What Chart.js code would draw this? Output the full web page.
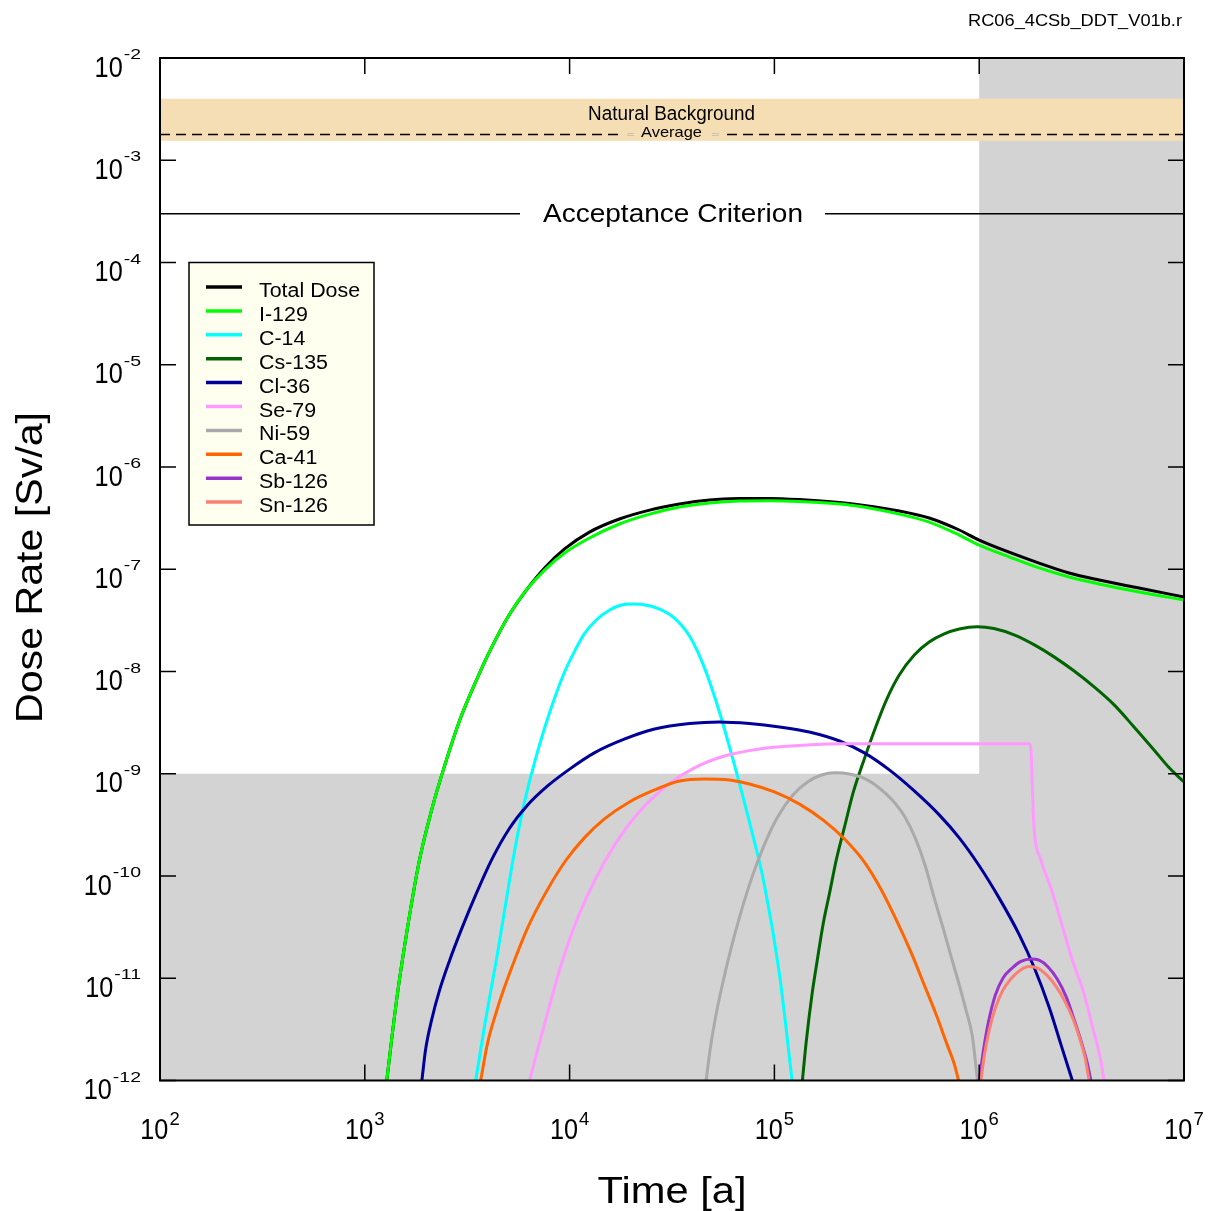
<!DOCTYPE html>
<html>
<head>
<meta charset="utf-8">
<title>Dose Rate vs Time</title>
<script src="https://cdn.jsdelivr.net/npm/chart.js@4.4.1/dist/chart.umd.min.js"></script>
<style>
  html, body { margin: 0; padding: 0; background: #ffffff; }
  canvas { display: block; }
</style>
</head>
<body>
<canvas id="chart" width="1209" height="1211"></canvas>
<script>
// ---- Dose rate [Sv/a] versus time [a] for each nuclide ----
const totalTime = [1.28e3, 1.43e3, 1.62e3, 1.85e3, 2.12e3, 2.46e3, 2.91e3, 3.51e3, 4.15e3, 5.10e3, 6.15e3, 7.55e3, 9.45e3, 1.25e4, 1.75e4, 2.46e4, 3.44e4, 4.82e4, 6.75e4, 9.45e4, 1.32e5, 2.32e5, 4.07e5, 5.70e5, 7.99e5, 1.00e6, 1.40e6, 1.96e6, 2.75e6, 3.85e6, 6.03e6, 1.00e7];
const totalDose = [1e-12, 6.15e-12, 3.20e-11, 1.44e-10, 4.43e-10, 1.22e-9, 3.36e-9, 8.26e-9, 1.70e-8, 3.65e-8, 6.26e-8, 1.03e-7, 1.58e-7, 2.31e-7, 3.10e-7, 3.79e-7, 4.34e-7, 4.75e-7, 4.91e-7, 4.93e-7, 4.80e-7, 4.39e-7, 3.71e-7, 3.17e-7, 2.42e-7, 1.93e-7, 1.47e-7, 1.15e-7, 9.18e-8, 7.84e-8, 6.55e-8, 5.35e-8];

const i129Time = [1.28e3, 1.43e3, 1.62e3, 1.85e3, 2.12e3, 2.46e3, 2.91e3, 3.51e3, 4.15e3, 5.10e3, 6.15e3, 7.55e3, 9.45e3, 1.25e4, 1.75e4, 2.46e4, 3.44e4, 4.82e4, 6.75e4, 9.45e4, 1.32e5, 2.32e5, 4.07e5, 5.70e5, 7.99e5, 1.00e6, 1.40e6, 1.96e6, 2.75e6, 3.85e6, 6.03e6, 1.00e7];
const i129Dose = [1e-12, 6.15e-12, 3.20e-11, 1.44e-10, 4.43e-10, 1.22e-9, 3.36e-9, 8.26e-9, 1.70e-8, 3.65e-8, 6.26e-8, 9.82e-8, 1.44e-7, 2.02e-7, 2.77e-7, 3.46e-7, 4.06e-7, 4.44e-7, 4.64e-7, 4.67e-7, 4.59e-7, 4.24e-7, 3.46e-7, 2.89e-7, 2.16e-7, 1.72e-7, 1.32e-7, 1.03e-7, 8.39e-8, 7.17e-8, 5.99e-8, 5.00e-8];

const c14Time = [3.48e3, 3.89e3, 4.39e3, 4.82e3, 5.27e3, 5.70e3, 6.17e3, 6.75e3, 7.55e3, 8.45e3, 9.45e3, 1.06e4, 1.18e4, 1.35e4, 1.57e4, 1.79e4, 2.01e4, 2.27e4, 2.75e4, 3.25e4, 3.85e4, 4.56e4, 5.39e4, 6.38e4, 7.55e4, 8.94e4, 1.06e5, 1.22e5];
const c14Dose = [1e-12, 3.92e-12, 1.51e-11, 4.66e-11, 1.37e-10, 3.16e-10, 6.49e-10, 1.30e-9, 2.80e-9, 5.51e-9, 9.89e-9, 1.59e-8, 2.33e-8, 3.19e-8, 3.99e-8, 4.47e-8, 4.57e-8, 4.52e-8, 4.08e-8, 3.33e-8, 2.22e-8, 1.08e-8, 4.02e-9, 1.22e-9, 3.38e-10, 8.18e-11, 1.08e-11, 1e-12];

const cs135Time = [1.37e5, 1.43e5, 1.53e5, 1.62e5, 1.73e5, 1.86e5, 2.01e5, 2.20e5, 2.43e5, 2.75e5, 3.11e5, 3.56e5, 4.07e5, 4.82e5, 5.70e5, 6.75e5, 7.99e5, 9.78e5, 1.18e6, 1.48e6, 1.86e6, 2.32e6, 2.91e6, 3.64e6, 4.56e6, 5.70e6, 7.14e6, 8.45e6, 1.00e7];
const cs135Dose = [1e-12, 2.39e-12, 7.20e-12, 1.51e-11, 3.40e-11, 6.84e-11, 1.47e-10, 3.02e-10, 6.64e-10, 1.40e-9, 2.80e-9, 5.51e-9, 9.24e-9, 1.45e-8, 1.94e-8, 2.33e-8, 2.60e-8, 2.74e-8, 2.63e-8, 2.28e-8, 1.82e-8, 1.39e-8, 1.01e-8, 7.06e-9, 4.71e-9, 2.87e-9, 1.71e-9, 1.15e-9, 8.31e-10];

const cl36Time = [1.90e3, 1.98e3, 2.12e3, 2.32e3, 2.60e3, 2.97e3, 3.48e3, 4.16e3, 5.10e3, 6.24e3, 7.81e3, 1.00e4, 1.32e4, 1.86e4, 2.60e4, 3.85e4, 5.39e4, 7.55e4, 1.06e5, 1.48e5, 2.08e5, 2.75e5, 3.64e5, 4.82e5, 6.38e5, 7.99e5, 1.00e6, 1.25e6, 1.57e6, 1.86e6, 2.20e6, 2.51e6, 2.85e6];
const cl36Dose = [1e-12, 2.00e-12, 3.92e-12, 7.70e-12, 1.51e-11, 3.04e-11, 6.54e-11, 1.44e-10, 2.95e-10, 4.95e-10, 7.60e-10, 1.11e-9, 1.60e-9, 2.19e-9, 2.74e-9, 3.10e-9, 3.21e-9, 3.10e-9, 2.87e-9, 2.56e-9, 2.09e-9, 1.60e-9, 1.09e-9, 6.79e-10, 3.96e-10, 2.36e-10, 1.26e-10, 6.11e-11, 2.66e-11, 1.26e-11, 5.14e-12, 2.23e-12, 1e-12];

const se79Time = [6.38e3, 6.98e3, 7.81e3, 8.94e3, 1.03e4, 1.22e4, 1.48e4, 1.86e4, 2.32e4, 3.01e4, 4.07e4, 5.70e4, 8.45e4, 1.32e5, 2.08e5, 1.754e6, 1.793e6, 1.813e6, 1.834e6, 1.865e6, 2.00e6, 2.28e6, 2.55e6, 2.85e6, 3.25e6, 3.57e6, 3.92e6, 4.07e6];
const se79Dose = [1e-12, 2.00e-12, 4.59e-12, 1.21e-11, 2.84e-11, 6.39e-11, 1.37e-10, 2.82e-10, 4.84e-10, 7.77e-10, 1.14e-9, 1.49e-9, 1.75e-9, 1.89e-9, 1.96e-9, 1.96e-9, 1.63e-9, 8.70e-10, 4.43e-10, 2.52e-10, 1.44e-10, 6.84e-11, 3.20e-11, 1.51e-11, 7.08e-12, 3.39e-12, 1.58e-12, 1e-12];

const ni59Time = [4.64e4, 4.87e4, 5.21e4, 5.64e4, 6.17e4, 6.83e4, 7.72e4, 8.84e4, 1.03e5, 1.22e5, 1.45e5, 1.70e5, 1.98e5, 2.32e5, 2.75e5, 3.25e5, 3.76e5, 4.31e5, 4.87e5, 5.45e5, 6.03e5, 6.68e5, 7.30e5, 7.99e5, 8.64e5, 9.25e5, 9.81e5];
const ni59Dose = [1e-12, 2.09e-12, 4.59e-12, 9.65e-12, 2.03e-11, 4.26e-11, 9.37e-11, 1.93e-10, 3.70e-10, 6.07e-10, 8.31e-10, 9.73e-10, 1.02e-9, 9.95e-10, 9.00e-10, 7.26e-10, 5.55e-10, 3.87e-10, 2.36e-10, 1.26e-10, 6.11e-11, 3.04e-11, 1.62e-11, 8.62e-12, 4.80e-12, 2.74e-12, 1e-12];

const ca41Time = [3.68e3, 3.98e3, 4.36e3, 4.76e3, 5.39e3, 6.24e3, 7.64e3, 9.56e3, 1.18e4, 1.48e4, 1.96e4, 2.60e4, 3.44e4, 4.56e4, 5.70e4, 7.55e4, 1.00e5, 1.32e5, 1.75e5, 2.20e5, 2.75e5, 3.33e5, 3.98e5, 4.66e5, 5.39e5, 6.17e5, 6.98e5, 7.55e5, 7.93e5];
const ca41Dose = [1e-12, 2.34e-12, 4.49e-12, 7.70e-12, 1.51e-11, 3.11e-11, 6.84e-11, 1.41e-10, 2.36e-10, 3.62e-10, 5.30e-10, 6.94e-10, 8.50e-10, 8.90e-10, 8.80e-10, 7.95e-10, 6.64e-10, 5.07e-10, 3.46e-10, 2.30e-10, 1.37e-10, 7.31e-11, 3.56e-11, 1.77e-11, 8.62e-12, 4.39e-12, 2.23e-12, 1.46e-12, 1e-12];

const sb126Time = [1.00e6, 1.05e6, 1.11e6, 1.20e6, 1.31e6, 1.45e6, 1.60e6, 1.79e6, 1.96e6, 2.17e6, 2.40e6, 2.66e6, 2.91e6, 3.15e6, 3.36e6, 3.51e6];
const sb126Dose = [1e-12, 2.00e-12, 3.75e-12, 6.88e-12, 1.01e-11, 1.26e-11, 1.46e-11, 1.54e-11, 1.50e-11, 1.29e-11, 9.87e-12, 6.58e-12, 3.92e-12, 2.39e-12, 1.52e-12, 1e-12];

const sn126Time = [1.02e6, 1.06e6, 1.12e6, 1.20e6, 1.30e6, 1.43e6, 1.58e6, 1.75e6, 1.94e6, 2.15e6, 2.38e6, 2.63e6, 2.87e6, 3.11e6, 3.29e6, 3.44e6];
const sn126Dose = [1e-12, 1.78e-12, 3.13e-12, 5.14e-12, 7.53e-12, 9.87e-12, 1.19e-11, 1.30e-11, 1.25e-11, 1.06e-11, 8.24e-12, 5.88e-12, 4.01e-12, 2.50e-12, 1.67e-12, 1e-12];

const seriesLabels = ['Total Dose', 'I-129', 'C-14', 'Cs-135', 'Cl-36', 'Se-79', 'Ni-59', 'Ca-41', 'Sb-126', 'Sn-126'];
const seriesTimes = [totalTime, i129Time, c14Time, cs135Time, cl36Time, se79Time, ni59Time, ca41Time, sb126Time, sn126Time];
const seriesDoses = [totalDose, i129Dose, c14Dose, cs135Dose, cl36Dose, se79Dose, ni59Dose, ca41Dose, sb126Dose, sn126Dose];
const seriesColors = ['#000000', '#00ff00', '#00ffff', '#006400', '#000099', '#ff99ff', '#aaaaaa', '#ff6600', '#9933cc', '#fa8072'];

// ---- Axis ticks (decades) ----
const timeTicks = [1e2, 1e3, 1e4, 1e5, 1e6, 1e7];
const timeTickExponents = ['2', '3', '4', '5', '6', '7'];
const doseTicks = [1e-2, 1e-3, 1e-4, 1e-5, 1e-6, 1e-7, 1e-8, 1e-9, 1e-10, 1e-11, 1e-12];
const doseTickExponents = ['-2', '-3', '-4', '-5', '-6', '-7', '-8', '-9', '-10', '-11', '-12'];

// ---- Reference levels ----
const naturalBackgroundHigh = 4.0e-3;
const naturalBackgroundLow = 1.55e-3;
const naturalBackgroundAverage = 1.8e-3;
const acceptanceCriterion = 3.0e-4;
const shadedDoseBelow = 1e-9;
const shadedTimeAfter = 1e6;

const FONT = '"Liberation Sans", Arial, Helvetica, sans-serif';

// Draws text with an optional horizontal stretch (or fitted to a width); returns drawn width.
function drawText(ctx, str, x, y, size, opts) {
  const o = opts || {};
  ctx.save();
  ctx.font = size + 'px ' + FONT;
  const w0 = ctx.measureText(str).width;
  const k = o.width ? o.width / w0 : (o.sx || 1);
  const w = w0 * k;
  const align = o.align || 'left';
  const left = align === 'center' ? x - w / 2 : (align === 'right' ? x - w : x);
  ctx.translate(left, y);
  ctx.scale(k, 1);
  ctx.textAlign = 'left';
  ctx.textBaseline = 'alphabetic';
  ctx.fillStyle = o.color || '#000000';
  ctx.fillText(str, 0, 0);
  ctx.restore();
  return w;
}

function measure(ctx, str, size, sx) {
  ctx.save();
  ctx.font = size + 'px ' + FONT;
  const w = ctx.measureText(str).width * (sx || 1);
  ctx.restore();
  return w;
}

// "10" with a raised exponent
function drawPower(ctx, exp, x, baseY, align, expSize, expSx, expRise) {
  const baseSize = 29, baseSx = 0.87, gap = 1;
  const wb = measure(ctx, '10', baseSize, baseSx);
  const we = measure(ctx, exp, expSize, expSx);
  const total = wb + gap + we;
  const left = align === 'center' ? x - total / 2 : x - total;
  drawText(ctx, '10', left, baseY, baseSize, { sx: baseSx });
  drawText(ctx, exp, left + wb + gap, baseY - expRise, expSize, { sx: expSx });
}

const decorations = {
  id: 'decorations',
  beforeDatasetsDraw(chart) {
    const { ctx, chartArea: a, scales: { x, y } } = chart;
    ctx.save();
    // shaded zones
    ctx.fillStyle = '#d3d3d3';
    const yShade = y.getPixelForValue(shadedDoseBelow);
    ctx.fillRect(a.left, yShade, a.right - a.left, a.bottom - yShade);
    const xShade = x.getPixelForValue(shadedTimeAfter);
    ctx.fillRect(xShade, a.top, a.right - xShade, a.bottom - a.top);

    // natural background band
    const yHigh = y.getPixelForValue(naturalBackgroundHigh);
    const yLow = y.getPixelForValue(naturalBackgroundLow);
    ctx.fillStyle = '#f5deb3';
    ctx.fillRect(a.left, yHigh, a.right - a.left, yLow - yHigh);

    const cx = (a.left + a.right) / 2 - 0.5;
    drawText(ctx, 'Natural Background', cx, 120, 19.5, { align: 'center', width: 167 });
    const avgW = 61;
    drawText(ctx, 'Average', cx, 137, 15, { align: 'center', width: avgW });

    const yAvg = Math.round(y.getPixelForValue(naturalBackgroundAverage)) + 0.5;
    ctx.strokeStyle = '#000000';
    ctx.lineWidth = 1.5;
    ctx.setLineDash([10, 6]);
    ctx.beginPath();
    ctx.moveTo(a.left, yAvg); ctx.lineTo(cx - avgW / 2 - 21, yAvg);
    ctx.stroke();
    ctx.beginPath();
    ctx.moveTo(cx + avgW / 2 + 25, yAvg); ctx.lineTo(a.right, yAvg);
    ctx.stroke();
    ctx.setLineDash([]);
    ctx.strokeStyle = '#c9c3b5';
    ctx.lineWidth = 1;
    ctx.beginPath();
    ctx.moveTo(cx - avgW / 2 - 14, yAvg - 1); ctx.lineTo(cx - avgW / 2 - 7, yAvg - 1);
    ctx.moveTo(cx - avgW / 2 - 14, yAvg + 1); ctx.lineTo(cx - avgW / 2 - 7, yAvg + 1);
    ctx.moveTo(cx + avgW / 2 + 10, yAvg - 1); ctx.lineTo(cx + avgW / 2 + 17, yAvg - 1);
    ctx.moveTo(cx + avgW / 2 + 10, yAvg + 1); ctx.lineTo(cx + avgW / 2 + 17, yAvg + 1);
    ctx.stroke();

    // acceptance criterion
    const yAcc = y.getPixelForValue(acceptanceCriterion);
    const accW = 260;
    const accCx = cx + 1.5;
    drawText(ctx, 'Acceptance Criterion', accCx, yAcc + 8.5, 25, { align: 'center', width: accW });
    ctx.strokeStyle = '#000000';
    ctx.lineWidth = 1.5;
    ctx.beginPath();
    ctx.moveTo(a.left, yAcc); ctx.lineTo(accCx - accW / 2 - 23, yAcc);
    ctx.moveTo(accCx + accW / 2 + 22, yAcc); ctx.lineTo(a.right, yAcc);
    ctx.stroke();
    ctx.restore();
  },
  afterDatasetsDraw(chart) {
    const { ctx, chartArea: a, scales: { x, y } } = chart;
    ctx.save();
    ctx.strokeStyle = '#000000';

    // inward tick marks
    ctx.lineWidth = 1.5;
    ctx.beginPath();
    y.ticks.forEach(t => {
      const py = y.getPixelForValue(t.value);
      ctx.moveTo(a.left, py); ctx.lineTo(a.left + 16, py);
      ctx.moveTo(a.right, py); ctx.lineTo(a.right - 16, py);
    });
    x.ticks.forEach(t => {
      const px = x.getPixelForValue(t.value);
      ctx.moveTo(px, a.top); ctx.lineTo(px, a.top + 16);
      ctx.moveTo(px, a.bottom); ctx.lineTo(px, a.bottom - 16);
    });
    ctx.stroke();

    // frame
    ctx.lineWidth = 2;
    ctx.strokeRect(a.left, a.top, a.right - a.left, a.bottom - a.top);

    // tick labels
    y.ticks.forEach((t, i) => {
      const py = y.getPixelForValue(t.value);
      drawPower(ctx, doseTickExponents[i], 141, py + 18.5, 'right', 15, 1.3, 17.5);
    });
    x.ticks.forEach((t, i) => {
      const px = x.getPixelForValue(t.value);
      drawPower(ctx, timeTickExponents[i], px, a.bottom + 58, 'center', 18.5, 1.0, 13.3);
    });

    // axis titles
    drawText(ctx, 'Time [a]', (a.left + a.right) / 2, 1203, 37.5, { align: 'center', width: 149 });
    ctx.save();
    ctx.translate(41.7, 567.5);
    ctx.rotate(-Math.PI / 2);
    drawText(ctx, 'Dose Rate [Sv/a]', 0, 0, 37, { align: 'center', width: 311 });
    ctx.restore();

    // file tag
    drawText(ctx, 'RC06_4CSb_DDT_V01b.r', 1182, 26, 17, { align: 'right', width: 214 });

    // legend
    const lx = 189, ly = 262.5, lw = 185, lh = 262.5;
    ctx.fillStyle = '#fffff0';
    ctx.fillRect(lx, ly, lw, lh);
    ctx.lineWidth = 1.5;
    ctx.strokeRect(lx, ly, lw, lh);
    chart.data.datasets.forEach((ds, i) => {
      const rowY = 287 + i * 23.9;
      ctx.strokeStyle = ds.borderColor;
      ctx.lineWidth = 3.5;
      ctx.beginPath();
      ctx.moveTo(206, rowY); ctx.lineTo(242, rowY);
      ctx.stroke();
      drawText(ctx, ds.label, 259, rowY + 10, 20, { sx: 1.07 });
    });
    ctx.restore();
  }
};

const datasets = seriesLabels.map((label, i) => ({
  label: label,
  data: seriesTimes[i].map((t, j) => ({ x: t, y: seriesDoses[i][j] })),
  borderColor: seriesColors[i],
  backgroundColor: seriesColors[i],
  borderWidth: 3,
  pointRadius: 0,
  fill: false,
  cubicInterpolationMode: 'monotone',
  order: seriesLabels.length - i
}));

new Chart(document.getElementById('chart'), {
  type: 'line',
  data: { datasets: datasets },
  options: {
    responsive: false,
    animation: false,
    devicePixelRatio: 1,
    layout: { padding: { left: 160, top: 58, right: 25, bottom: 130.5 } },
    plugins: { legend: { display: false }, tooltip: { enabled: false } },
    scales: {
      x: {
        type: 'logarithmic', min: 1e2, max: 1e7, display: false,
        ticks: { display: false }, grid: { display: false }, border: { display: false },
        afterBuildTicks: scale => { scale.ticks = timeTicks.map(v => ({ value: v })); }
      },
      y: {
        type: 'logarithmic', min: 1e-12, max: 1e-2, display: false,
        ticks: { display: false }, grid: { display: false }, border: { display: false },
        afterBuildTicks: scale => { scale.ticks = doseTicks.map(v => ({ value: v })); }
      }
    }
  },
  plugins: [decorations]
});
</script>
</body>
</html>
